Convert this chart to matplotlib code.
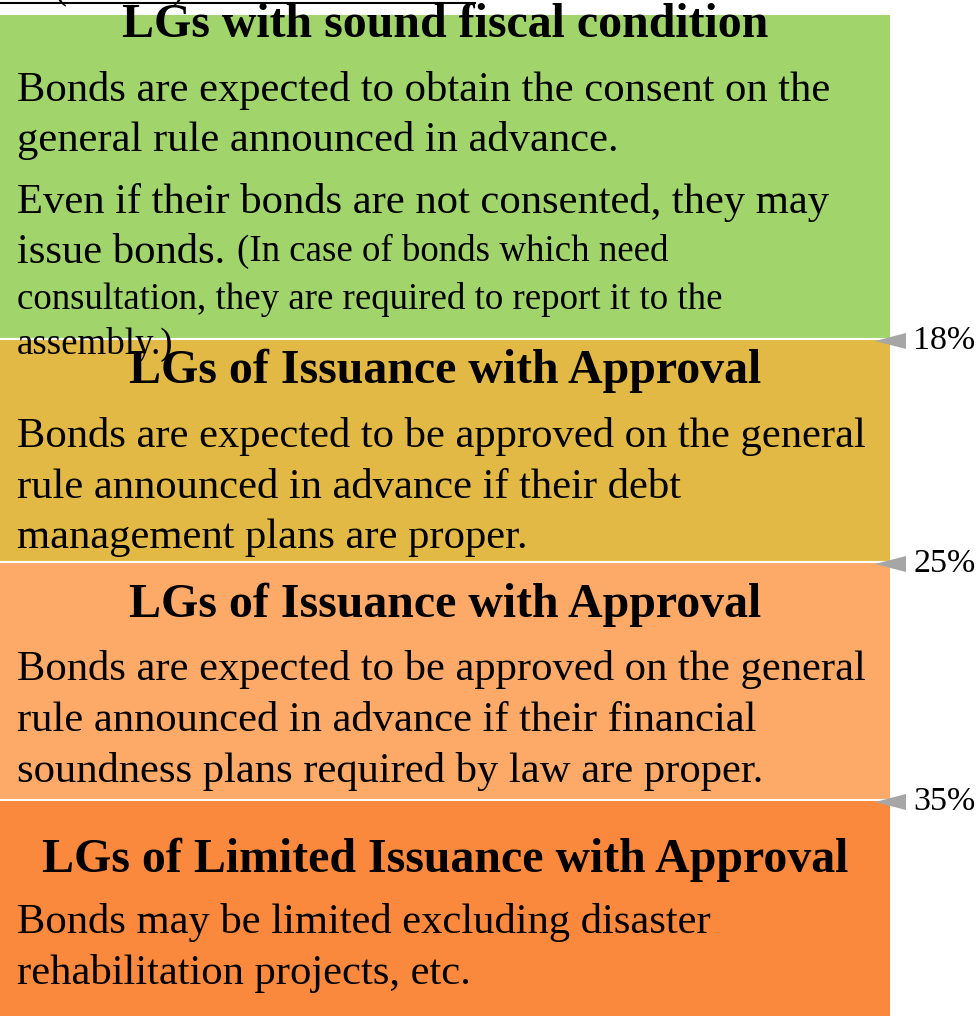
import matplotlib.pyplot as plt
from matplotlib.patches import Rectangle, Polygon

# bands, top to bottom
titles = ['LGs with sound fiscal condition',
          'LGs of Issuance with Approval',
          'LGs of Issuance with Approval',
          'LGs of Limited Issuance with Approval']
band_colors = ['#a1d56c', '#e2b944', '#fdaa69', '#fb893d']
band_edges = [15, 339, 562, 800, 1016]
thresholds = ['18%', '25%', '35%']

body = [
    ['Bonds are expected to obtain the consent on the',
     'general rule announced in advance.'],
    ['Bonds are expected to be approved on the general',
     'rule announced in advance if their debt',
     'management plans are proper.'],
    ['Bonds are expected to be approved on the general',
     'rule announced in advance if their financial',
     'soundness plans required by law are proper.'],
    ['Bonds may be limited excluding disaster',
     'rehabilitation projects, etc.'],
]
extra_big = ['Even if their bonds are not consented, they may', 'issue bonds.']
extra_small = ['(In case of bonds which need',
               'consultation, they are required to report it to the',
               'assembly.)']

plt.rcParams['font.family'] = ['Liberation Serif', 'DejaVu Serif']
W, H = 980, 1016
fig = plt.figure(figsize=(W / 100, H / 100), dpi=100)
ax = fig.add_axes([0, 0, 1, 1])
ax.set_xlim(0, W)
ax.set_ylim(H, 0)
ax.axis('off')

right = 890
for i in range(4):
    ax.add_patch(Rectangle((0, band_edges[i]), right, band_edges[i + 1] - band_edges[i],
                           facecolor=band_colors[i], edgecolor='none', zorder=1))
for y in band_edges[1:4]:
    ax.plot([0, right], [y, y], color='white', lw=1.5, zorder=2)

# markers and threshold labels
for y, lab in zip(band_edges[1:4], thresholds):
    ax.add_patch(Polygon([[875, y + 2], [906, y - 6], [906, y + 10]], closed=True,
                         facecolor='#a6a6a6', edgecolor='none', zorder=3))
    ax.text(913, y + 2, lab, fontsize=24.5, va='center', ha='left')

# stray line at top (cut off in the source)
ax.plot([0, 475], [3, 3], color='black', lw=1.5, zorder=4)
ax.text(60, -10, '(', fontsize=26, ha='center', va='center', clip_on=True)
ax.text(178, -10, ')', fontsize=26, ha='center', va='center', clip_on=True)

tfs = 34.5
bfs = 30.7
sfs = 26.6
title_base = [37, 383, 617, 872]
for t, yb in zip(titles, title_base):
    ax.text(445, yb, t, fontsize=tfs, fontweight='bold', ha='center', va='baseline', zorder=5)

body_base = [[101, 151], [447, 498, 548], [680, 731, 782], [933, 984]]
for lines, bases in zip(body, body_base):
    for s, yb in zip(lines, bases):
        ax.text(17, yb, s, fontsize=bfs, ha='left', va='baseline', zorder=5)

ax.text(17, 213, extra_big[0], fontsize=bfs, ha='left', va='baseline', zorder=5)
ax.text(17, 263, extra_big[1], fontsize=bfs, ha='left', va='baseline', zorder=5)
ax.text(237, 261, extra_small[0], fontsize=sfs, ha='left', va='baseline', zorder=5)
ax.text(17, 309, extra_small[1], fontsize=sfs, ha='left', va='baseline', zorder=5)
ax.text(17, 354, extra_small[2], fontsize=sfs, ha='left', va='baseline', zorder=5)

fig.savefig('out.png', dpi=100)
